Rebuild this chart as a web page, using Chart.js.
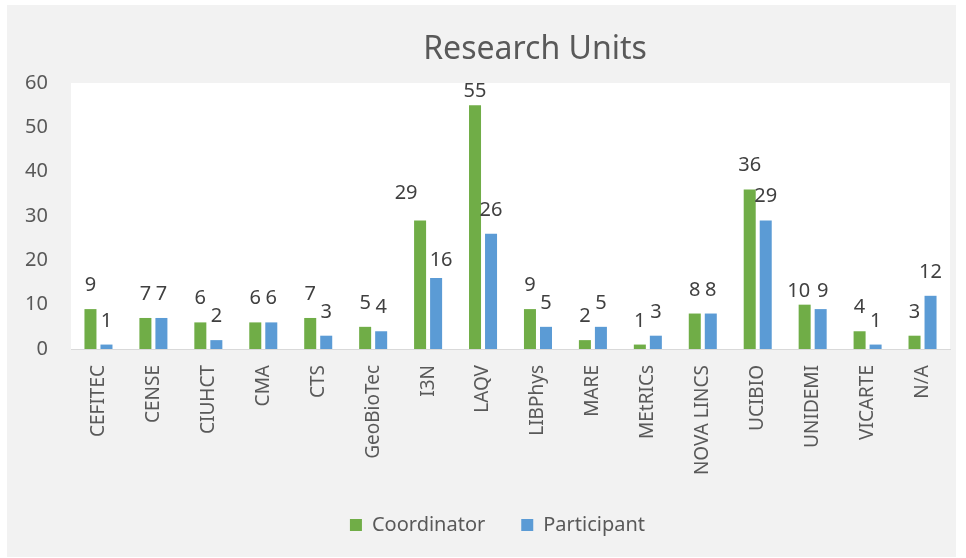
<!DOCTYPE html>
<html>
<head>
<meta charset="utf-8">
<script src="https://cdn.jsdelivr.net/npm/chart.js@4"></script>
<style>
  html, body { margin: 0; padding: 0; background: #fff; }
  #panel { position: absolute; left: 7px; top: 5px; width: 949px; height: 552px; background: #f2f2f2; }
</style>
</head>
<body>
<div id="panel"><canvas id="barChart" width="949" height="552"></canvas></div>
<script>
const units = ['CEFITEC', 'CENSE', 'CIUHCT', 'CMA', 'CTS', 'GeoBioTec', 'I3N', 'LAQV', 'LIBPhys', 'MARE', 'MEtRICs', 'NOVA LINCS', 'UCIBIO', 'UNIDEMI', 'VICARTE', 'N/A']
const coordinator = [9, 7, 6, 6, 7, 5, 29, 55, 9, 2, 1, 8, 36, 10, 4, 3]
const participant = [1, 7, 2, 6, 3, 4, 16, 26, 5, 5, 3, 8, 29, 9, 1, 12]
const yTicks = [0, 10, 20, 30, 40, 50, 60]
const chartTitle = 'Research Units'

const FONT = 'Noto Sans'

// a few value labels were dragged aside in the original: [dataset, index, dx, dy]
const labelNudge = [[0, 6, -14, -3], [1, 6, 5, 6], [0, 13, -6, 10], [1, 13, 2, 6]]

// white plot area on the grey panel
const plotBg = {
  id: 'plotBg',
  beforeDraw (chart) {
    const { ctx, chartArea: a } = chart
    ctx.save()
    ctx.fillStyle = '#ffffff'
    ctx.fillRect(a.left, a.top, a.right - a.left, a.bottom - a.top)
    ctx.restore()
  }
}

// title sits a bit right of centre in the original, so draw it by hand
const titleText = {
  id: 'titleText',
  afterDraw (chart) {
    const ctx = chart.ctx
    ctx.save()
    ctx.font = '32px "' + FONT + '"'
    ctx.fillStyle = '#595959'
    ctx.textAlign = 'center'
    ctx.textBaseline = 'alphabetic'
    ctx.fillText(chartTitle, 528, 54)
    ctx.restore()
  }
}

// value labels above bars, kept inside the plot area
const valueLabels = {
  id: 'valueLabels',
  afterDatasetsDraw (chart) {
    const ctx = chart.ctx
    const top = chart.chartArea.top
    ctx.save()
    ctx.font = '20px "' + FONT + '"'
    ctx.fillStyle = '#404040'
    ctx.textAlign = 'center'
    ctx.textBaseline = 'alphabetic'
    chart.data.datasets.forEach((ds, i) => {
      chart.getDatasetMeta(i).data.forEach((bar, j) => {
        let x = bar.x
        let y = bar.y - 18
        if (y - 14 < top) y = top + 14
        const n = labelNudge.find(d => d[0] === i && d[1] === j)
        if (n) { x += n[2]; y += n[3] }
        ctx.fillText(ds.data[j], x, y)
      })
    })
    ctx.restore()
  }
}

new Chart(document.getElementById('barChart'), {
  type: 'bar',
  data: {
    labels: units,
    datasets: [
      { label: 'Coordinator', data: coordinator, backgroundColor: '#70ad47' },
      { label: 'Participant', data: participant, backgroundColor: '#5b9bd5' }
    ]
  },
  options: {
    responsive: false,
    animation: false,
    categoryPercentage: 0.583,
    barPercentage: 0.75,
    layout: { padding: { left: 0, right: 6, top: 78, bottom: 12 } },
    plugins: {
      title: { display: false },
      legend: {
        position: 'bottom',
        fullSize: false,
        labels: {
          color: '#595959',
          font: { family: FONT, size: 20 },
          boxWidth: 12,
          boxHeight: 12,
          padding: 10,
          // wider gap between the two entries, as in the original
          generateLabels (chart) {
            const items = Chart.defaults.plugins.legend.labels.generateLabels(chart)
            items.forEach(it => { it.text = it.text + '\u00a0\u00a0\u00a0\u00a0\u00a0' })
            return items
          }
        }
      },
      tooltip: { enabled: false }
    },
    scales: {
      x: {
        grid: { display: false, drawTicks: false },
        border: { display: true, color: '#d9d9d9', width: 1 },
        ticks: {
          color: '#595959',
          font: { family: FONT, size: 19 },
          minRotation: 90,
          maxRotation: 90,
          padding: 16,
          autoSkip: false
        },
        afterFit (scale) {
          scale.height = 156
          scale.paddingLeft = 0
          scale.paddingRight = 0
        }
      },
      y: {
        min: 0,
        max: 60,
        grid: { display: false, drawTicks: false },
        border: { display: false },
        afterBuildTicks (scale) { scale.ticks = yTicks.map(v => ({ value: v })) },
        ticks: {
          color: '#595959',
          font: { family: FONT, size: 20 },
          padding: 23
        },
        afterFit (scale) { scale.width = 64 }
      }
    }
  },
  plugins: [plotBg, titleText, valueLabels]
})
</script>
</body>
</html>
